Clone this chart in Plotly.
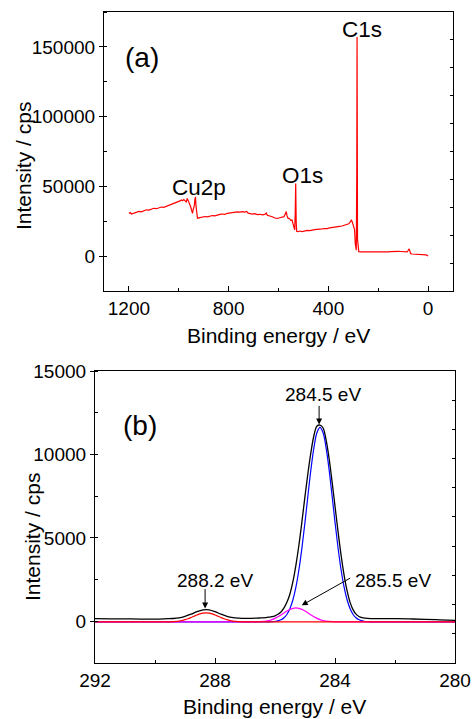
import plotly.graph_objects as go

# ---------------- (a) survey spectrum ----------------
survey_be = [1200, 1195, 1190, 1180, 1170, 1160, 1150, 1140, 1130, 1120, 1110, 1100, 1090, 1080,
             1070, 1060, 1050, 1040, 1030, 1020, 1010, 1000, 995, 990, 985, 980, 975, 970, 966,
             962, 957, 952, 948, 945, 942, 938, 935, 933, 931, 928, 925, 915, 905, 895, 885, 875,
             865, 855, 845, 835, 825, 815, 805, 795, 785, 775, 765, 755, 745, 735, 728, 722, 715,
             705, 695, 685, 675, 665, 655, 649, 645, 635, 625, 615, 605, 595, 585, 578, 572, 569,
             566, 562, 556, 550, 546, 542, 538, 535, 533, 531, 529, 527, 522, 515, 505, 495, 485,
             475, 465, 455, 445, 435, 425, 415, 405, 395, 385, 375, 365, 355, 345, 335, 325, 318,
             312, 308, 305, 302, 298, 295, 292, 290, 288, 286, 284.8, 284, 283, 281, 278, 270, 260,
             250, 240, 230, 220, 210, 200, 190, 180, 170, 160, 150, 140, 132, 126, 120, 110, 100,
             90, 84, 80, 77, 74, 70, 65, 55, 45, 35, 25, 15, 8, 3, 0]
survey_int = [30500, 31200, 30200, 31000, 31600, 32100, 31800, 32600, 33200, 33000, 33800, 34300,
              34000, 34700, 35200, 35000, 35700, 36300, 36800, 37500, 38300, 38900, 39600, 40300,
              39700, 40500, 39400, 38800, 41300, 39000, 37500, 35200, 31500, 30600, 33500, 36000,
              41000, 42500, 36000, 28500, 27200, 27600, 28000, 28400, 28200, 28800, 29100, 28900,
              29600, 29900, 30200, 30000, 30700, 31000, 31300, 31100, 31700, 31500, 31900, 31600,
              32100, 30800, 30300, 30100, 30500, 29800, 30000, 29600, 29900, 30900, 29300, 29000,
              28200, 27300, 27000, 27500, 27900, 28300, 30500, 32000, 29000, 27200, 26800, 25500,
              26000, 22500, 20500, 18800, 30000, 52000, 24000, 17800, 17500, 18000, 17600, 18200,
              18500, 18300, 18800, 19000, 19200, 19100, 19500, 19800, 19700, 20200, 20600, 20500,
              21000, 21300, 21600, 22000, 22600, 23200, 24500, 25800, 25000, 23000, 21500, 19000,
              9000, 5500, 4200, 60000, 157000, 95000, 12000, 4500, 3200, 3100, 3000, 3100, 3000,
              3050, 3000, 3100, 3000, 3050, 3100, 3150, 3100, 3200, 3300, 3700, 3800, 3400, 3300,
              3300, 3200, 3000, 4000, 5200, 4200, 1800, 1500, 1400, 1600, 1500, 1200, 1400, 900,
              400, 0]

# ---------------- (b) C1s high resolution ----------------
c1s_be = [292.0, 291.5, 291.0, 290.5, 290.0, 289.6, 289.4, 289.2, 289.0, 288.8, 288.6, 288.4,
          288.3, 288.2, 288.0, 287.8, 287.6, 287.4, 287.2, 287.0, 286.8, 286.6, 286.5, 286.4,
          286.3, 286.2, 286.1, 286.0, 285.9, 285.8, 285.7, 285.6, 285.5, 285.4, 285.3, 285.2,
          285.1, 285.0, 284.9, 284.8, 284.7, 284.6, 284.5, 284.4, 284.3, 284.2, 284.1, 284.0,
          283.9, 283.8, 283.7, 283.6, 283.5, 283.4, 283.3, 283.2, 283.1, 283.0, 282.8, 282.5,
          282.0, 281.5, 281.0, 280.5, 280.0]
c1s_raw = [160, 150, 145, 135, 135, 155, 167, 204, 295, 426, 578, 685, 700, 690, 578, 426, 300,
           224, 192, 179, 180, 190, 200, 210, 225, 250, 280, 330, 420, 560, 800, 1150, 1650, 2400,
           3400, 4600, 6000, 7500, 8900, 10150, 11150, 11700, 11760, 11600, 10900, 9800, 8400,
           6900, 5400, 4000, 2800, 1850, 1150, 700, 430, 290, 220, 190, 165, 160, 155, 140, 120,
           90, 60]

# C-C component (284.5 eV)
cc_be = [292.0, 286.4, 286.3, 286.2, 286.1, 286.0, 285.9, 285.8, 285.7, 285.6, 285.5, 285.4,
         285.3, 285.2, 285.1, 285.0, 284.9, 284.8, 284.7, 284.6, 284.5, 284.4, 284.3, 284.2,
         284.1, 284.0, 283.9, 283.8, 283.7, 283.6, 283.5, 283.4, 283.3, 283.2, 283.1, 283.0,
         282.9, 282.8, 282.7, 282.6, 280.0]
cc_int = [-40, -40, -38, -35, -28, -11, 23, 89, 211, 423, 770, 1305, 2076, 3117, 4425, 5946, 7571,
          9132, 10440, 11313, 11620, 11313, 10440, 9132, 7571, 5946, 4425, 3117, 2076, 1305, 770,
          423, 211, 89, 23, -11, -28, -35, -38, -40, -40]

# C-O component (285.5 eV)
co_be = [292.0, 286.8, 286.7, 286.6, 286.5, 286.4, 286.3, 286.2, 286.1, 286.0, 285.9, 285.8,
         285.7, 285.6, 285.5, 285.4, 285.3, 285.2, 285.1, 285.0, 284.9, 284.8, 284.7, 284.6,
         284.5, 284.4, 284.3, 284.2, 284.1, 284.0, 283.9, 283.8, 280.0]
co_int = [-40, -40, -36, -32, -24, -11, 13, 49, 103, 176, 270, 380, 499, 615, 712, 777, 800, 777,
          712, 615, 499, 380, 270, 176, 103, 49, 13, -11, -24, -32, -36, -40, -40]

# C=O component (288.2 eV)
coo_be = [292.0, 289.7, 289.6, 289.5, 289.4, 289.3, 289.2, 289.1, 289.0, 288.9, 288.8, 288.7,
          288.6, 288.5, 288.4, 288.3, 288.2, 288.1, 288.0, 287.9, 287.8, 287.7, 287.6, 287.5,
          287.4, 287.3, 287.2, 287.1, 287.0, 286.9, 280.0]
coo_int = [-40, -40, -36, -32, -23, -8, 14, 48, 95, 155, 226, 303, 378, 442, 485, 500, 485, 442,
           378, 303, 226, 155, 95, 48, 14, -8, -23, -32, -36, -40, -40]

FONT = "Liberation Sans, Arial, Helvetica, sans-serif"
W, H = 472, 719

fig = go.Figure()
fig.add_trace(go.Scatter(x=survey_be, y=survey_int, mode="lines",
                         line=dict(color="#ff0000", width=1.2), xaxis="x", yaxis="y"))
fig.add_trace(go.Scatter(x=c1s_be, y=c1s_raw, mode="lines", line_shape="spline",
                         line=dict(color="black", width=1.3), xaxis="x2", yaxis="y2"))
fig.add_trace(go.Scatter(x=cc_be, y=cc_int, mode="lines", line_shape="spline",
                         line=dict(color="#0000ff", width=1.2), xaxis="x2", yaxis="y2"))
fig.add_trace(go.Scatter(x=co_be, y=co_int, mode="lines", line_shape="spline",
                         line=dict(color="#ff00ff", width=1.2), xaxis="x2", yaxis="y2"))
fig.add_trace(go.Scatter(x=coo_be, y=coo_int, mode="lines", line_shape="spline",
                         line=dict(color="#ff0000", width=1.2), xaxis="x2", yaxis="y2"))
# empty traces to activate mirror tick axes
fig.add_trace(go.Scatter(x=[], y=[], xaxis="x", yaxis="y3", showlegend=False))
fig.add_trace(go.Scatter(x=[], y=[], xaxis="x2", yaxis="y4", showlegend=False))

tickfont = dict(family=FONT, size=19, color="black")
common = dict(showline=True, linecolor="black", linewidth=1.2, mirror=True, showgrid=False,
              zeroline=False, tickcolor="black", tickwidth=1.1, tickfont=tickfont,
              automargin=False)
mirror_common = dict(showticklabels=False, showgrid=False, zeroline=False, showline=False,
                     tickcolor="black", automargin=False)

fig.update_layout(
    template="none",
    width=W, height=H, margin=dict(l=0, r=0, t=0, b=0, pad=0), autosize=False,
    paper_bgcolor="white", plot_bgcolor="white", showlegend=False,
    xaxis=dict(domain=[104 / W, 453 / W], anchor="y", range=[1300, -100],
               tickmode="linear", tick0=0, dtick=400, ticks="inside", ticklen=5,
               minor=dict(dtick=200, tick0=0, ticks="inside", ticklen=3, tickcolor="black"),
               **common),
    yaxis=dict(domain=[1 - 291 / H, 1 - 12 / H], anchor="x", range=[-25000, 175000],
               tickmode="linear", tick0=0, dtick=50000, tickformat="d", ticks="outside",
               ticklen=4,
               minor=dict(dtick=25000, tick0=0, ticks="inside", ticklen=3, tickcolor="black"),
               **common),
    yaxis3=dict(overlaying="y", side="right", anchor="x", range=[-25000, 175000],
                tickmode="linear", tick0=-5000, dtick=20000, ticks="inside", ticklen=3,
                **mirror_common),
    xaxis2=dict(domain=[95 / W, 455 / W], anchor="y2", range=[292, 280],
                tickmode="linear", tick0=280, dtick=4, ticks="inside", ticklen=5,
                minor=dict(dtick=2, tick0=280, ticks="inside", ticklen=3, tickcolor="black"),
                **common),
    yaxis2=dict(domain=[1 - 663 / H, 1 - 371 / H], anchor="x2", range=[-2500, 15000],
                tickmode="linear", tick0=0, dtick=5000, tickformat="d", ticks="outside",
                ticklen=4,
                minor=dict(dtick=2500, tick0=0, ticks="inside", ticklen=3, tickcolor="black"),
                **common),
    yaxis4=dict(overlaying="y2", side="right", anchor="x2", range=[-2500, 15000],
                tickmode="linear", tick0=-740, dtick=1750, ticks="inside", ticklen=3,
                **mirror_common),
)

def ptext(text, px, py, size, angle=0):
    fig.add_annotation(text=text, x=px / W, y=1 - py / H, xref="paper", yref="paper",
                       xanchor="center", yanchor="middle", showarrow=False, textangle=angle,
                       font=dict(family=FONT, size=size, color="black"))

# axis titles
ptext("Binding energy / eV", 278, 335, 21)
ptext("Intensity / cps", 23, 166, 21, -90)
ptext("Binding energy / eV", 274, 706, 21)
ptext("Intensity / cps", 32, 537, 21, -90)

# panel labels and peak labels
ptext("(a)", 142, 57, 28)
ptext("C1s", 362, 30, 22.5)
ptext("O1s", 302, 176, 22.5)
ptext("Cu2p", 199, 187, 22.5)
ptext("(b)", 140, 425, 28)
ptext("284.5 eV", 323, 394, 19)
ptext("288.2 eV", 215, 580, 19)
ptext("285.5 eV", 393, 580, 19)

def arrow(x, y, ax, ay):
    fig.add_annotation(text="", x=x, y=y, xref="x2", yref="y2", ax=ax, ay=ay,
                       showarrow=True, arrowhead=2, arrowsize=1.2, arrowwidth=1,
                       arrowcolor="black", standoff=0, startstandoff=0)

arrow(284.53, 11800, 0, -20)
arrow(288.33, 760, 0, -21)
arrow(285.11, 960, 50, -28)

fig.write_html("out.html", config={"displayModeBar": False},
               post_script="document.body.style.margin='0';document.body.style.overflow='hidden';")
